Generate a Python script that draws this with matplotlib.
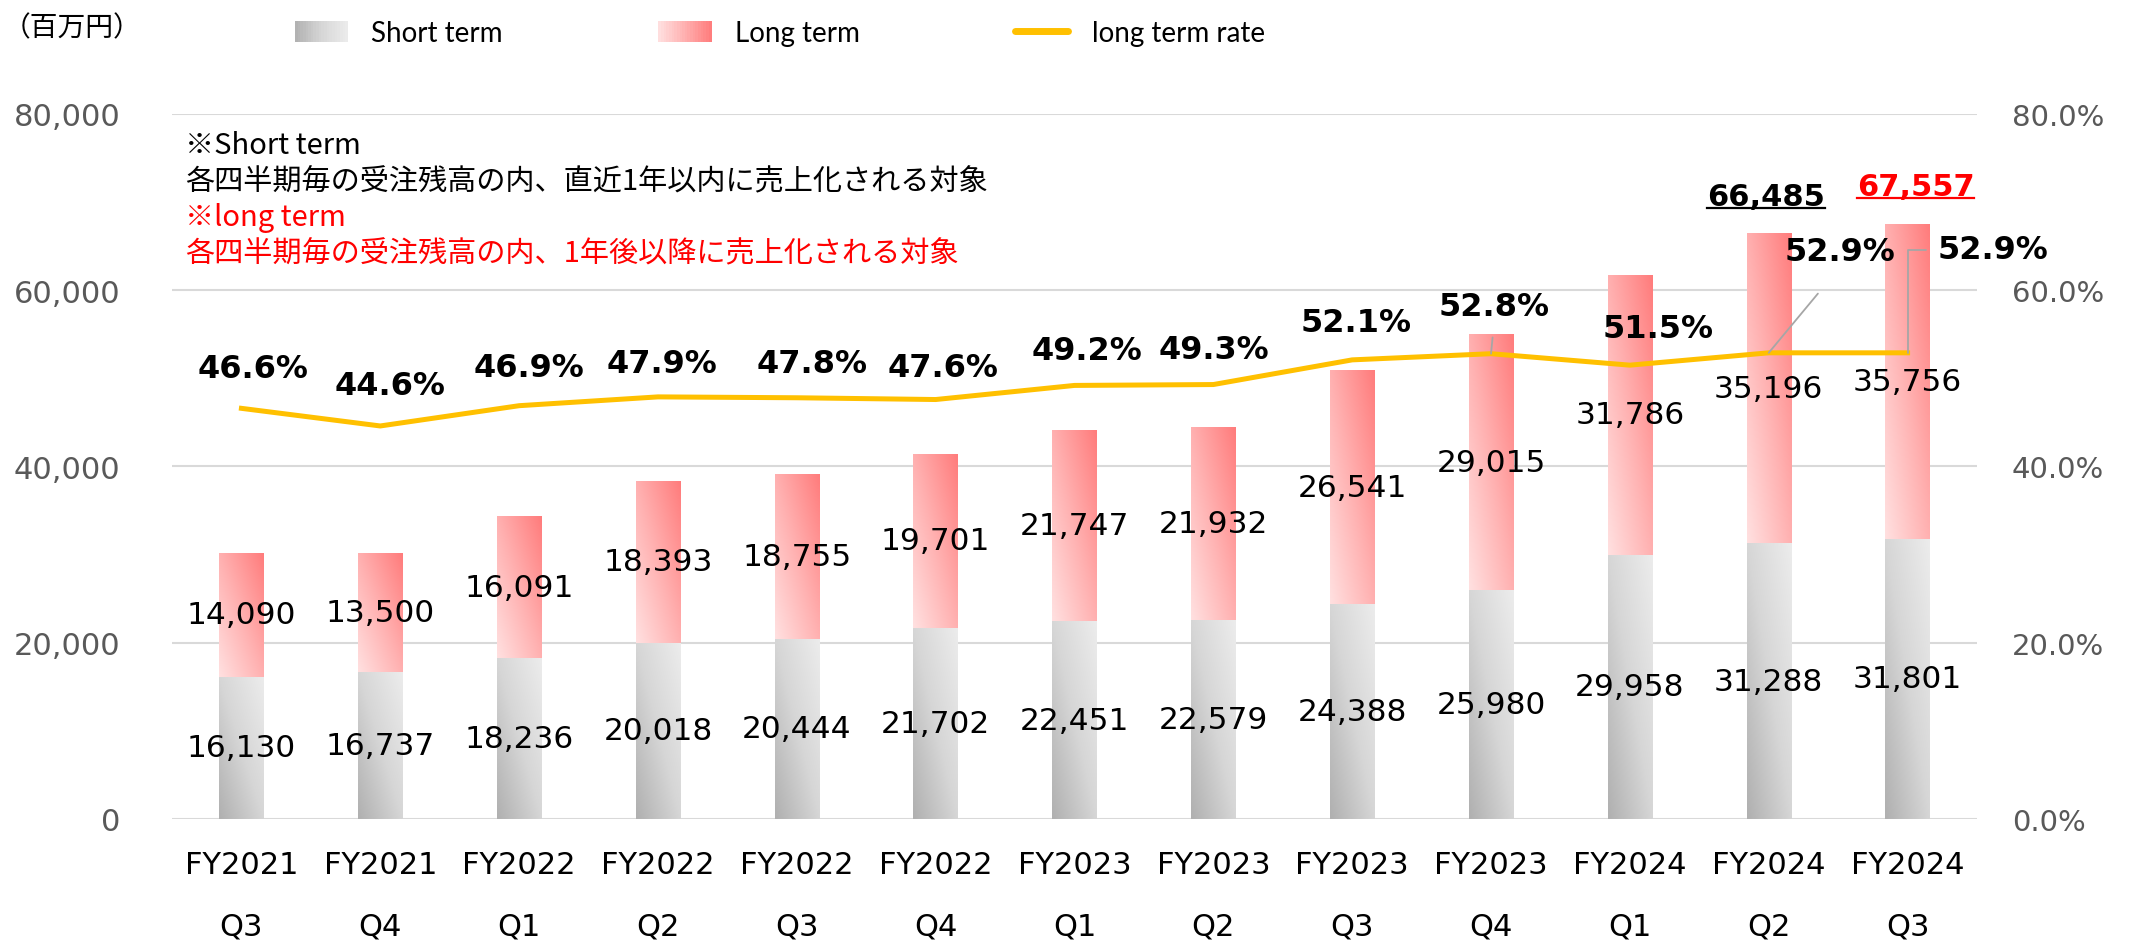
"""Order backlog by quarter: short term / long term stacked bars with long term rate."""

import matplotlib

matplotlib.use("Agg")

import matplotlib.pyplot as plt
import numpy as np
from matplotlib.colors import LinearSegmentedColormap
from matplotlib.legend_handler import HandlerBase
from matplotlib.lines import Line2D
from matplotlib.patches import Patch, Rectangle
from matplotlib.ticker import FuncFormatter

FISCAL_YEARS = ["FY2021", "FY2021", "FY2022", "FY2022", "FY2022", "FY2022", "FY2023",
                "FY2023", "FY2023", "FY2023", "FY2024", "FY2024", "FY2024"]
QUARTERS = ["Q3", "Q4", "Q1", "Q2", "Q3", "Q4", "Q1", "Q2", "Q3", "Q4", "Q1", "Q2", "Q3"]
SHORT_TERM = [16130, 16737, 18236, 20018, 20444, 21702, 22451, 22579, 24388, 25980,
              29958, 31288, 31801]
LONG_TERM = [14090, 13500, 16091, 18393, 18755, 19701, 21747, 21932, 26541, 29015,
             31786, 35196, 35756]
LONG_TERM_RATE = [46.6, 44.6, 46.9, 47.9, 47.8, 47.6, 49.2, 49.3, 52.1, 52.8, 51.5, 52.9, 52.9]
TOTAL_LABELS = [66485, 67557]  # shown above the last two bars

NOTE_LINES = [
    ("※Short term", "black"),
    ("各四半期毎の受注残高の内、直近1年以内に売上化される対象", "black"),
    ("※long term", "red"),
    ("各四半期毎の受注残高の内、1年後以降に売上化される対象", "red"),
]

# pixel offsets of the rate labels from their points
RATE_OFFSETS = [(12, 40), (10, 40), (10, 38), (4, 33), (15, 34), (7, 32), (12, 35),
                (1, 35), (4, 37), (3, 47), (28, 37), (71, 101), (85, 103)]

GRAY_CMAP = LinearSegmentedColormap.from_list("gray_grad", ["#b0b0b0", "#d6d6d6", "#ececec"])
PINK_CMAP = LinearSegmentedColormap.from_list("pink_grad", ["#ffe0e0", "#ffb0b0", "#ff7c7c"])
RATE_COLOR = "#ffc000"
GRID_COLOR = "#d9d9d9"
TICK_GRAY = "#595959"
NUM_FONT = "DejaVu Sans"
JP_FONT = ["Noto Sans CJK JP", "DejaVu Sans"]


class GradientHandler(HandlerBase):
    def __init__(self, cmap):
        super().__init__()
        self.cmap = cmap

    def create_artists(self, legend, orig_handle, xdescent, ydescent, width, height,
                       fontsize, trans):
        n = 20
        artists = []
        for k in range(n):
            artists.append(Rectangle((-xdescent + width * k / n, -ydescent), width / n + 0.3,
                                     height, facecolor=self.cmap((k + 0.5) / n),
                                     edgecolor="none", transform=trans))
        return artists


def fill_gradient(ax, bars, cmap):
    yy, xx = np.mgrid[0:1:60j, 0:1:60j]
    grad = (xx + yy) / 2
    for bar in bars:
        x0, y0 = bar.get_x(), bar.get_y()
        w, h = bar.get_width(), bar.get_height()
        im = ax.imshow(grad, cmap=cmap, vmin=0, vmax=1, origin="lower", aspect="auto",
                       extent=[x0, x0 + w, y0, y0 + h], interpolation="bilinear", zorder=2)
        im.set_clip_path(bar)
        bar.set_facecolor("none")


def main() -> None:
    fig = plt.figure(figsize=(21.44, 9.45), dpi=100)
    ax = fig.add_axes([172 / 2144, 125 / 945, 1805 / 2144, 705 / 945])
    x = np.arange(len(QUARTERS))

    short_bars = ax.bar(x, SHORT_TERM, width=0.32, zorder=2, edgecolor="none")
    long_bars = ax.bar(x, LONG_TERM, bottom=SHORT_TERM, width=0.32, zorder=2, edgecolor="none")
    fill_gradient(ax, short_bars, GRAY_CMAP)
    fill_gradient(ax, long_bars, PINK_CMAP)

    for i, (s, l) in enumerate(zip(SHORT_TERM, LONG_TERM)):
        ax.text(i, s / 2, f"{s:,}", ha="center", va="center", fontsize=22.5,
                family=NUM_FONT, zorder=5)
        ax.text(i, s + l / 2, f"{l:,}", ha="center", va="center", fontsize=22.5,
                family=NUM_FONT, zorder=5)

    ax.set_xlim(-0.5, len(QUARTERS) - 0.5)
    ax.set_ylim(0, 80000)
    ax.set_yticks(np.arange(0, 80001, 20000))
    ax.yaxis.set_major_formatter(FuncFormatter(lambda v, _: f"{v:,.0f}"))
    ax.set_xticks(x)
    ax.set_xticklabels([f"{fy}\n{q}" for fy, q in zip(FISCAL_YEARS, QUARTERS)],
                       linespacing=2.45)
    ax.tick_params(axis="x", length=0, pad=22, labelsize=22, labelcolor="black")
    ax.tick_params(axis="y", length=0, pad=37, labelsize=22, labelcolor=TICK_GRAY)
    for label in ax.get_xticklabels() + ax.get_yticklabels():
        label.set_family(NUM_FONT)
    ax.grid(axis="y", color=GRID_COLOR, linewidth=1.5, zorder=0)
    ax.set_axisbelow(True)
    for side in ["top", "right", "left", "bottom"]:
        ax.spines[side].set_visible(False)

    ax2 = ax.twinx()
    ax2.plot(x, LONG_TERM_RATE, color=RATE_COLOR, linewidth=3.6, zorder=3,
             solid_joinstyle="round")
    ax2.set_ylim(0, 80)
    ax2.set_yticks(np.arange(0, 81, 20))
    ax2.yaxis.set_major_formatter(FuncFormatter(lambda v, _: f"{v:.1f}%"))
    ax2.tick_params(axis="y", length=0, pad=25, labelsize=21, labelcolor=TICK_GRAY)
    for label in ax2.get_yticklabels():
        label.set_family(NUM_FONT)
    for side in ["top", "right", "left", "bottom"]:
        ax2.spines[side].set_visible(False)

    leader = dict(arrowstyle="-", color="#a6a6a6", lw=1.3, shrinkB=0)
    for i, (rate, (dx, dy)) in enumerate(zip(LONG_TERM_RATE, RATE_OFFSETS)):
        arrow = None
        if i == 9:
            arrow = dict(leader, relpos=(0.5, 0.0), shrinkA=9)
        elif i == len(LONG_TERM_RATE) - 2:
            arrow = dict(leader, relpos=(0.5, 0.0), shrinkA=22)
        elif i == len(LONG_TERM_RATE) - 1:
            arrow = dict(leader, relpos=(0.0, 0.5), shrinkA=6,
                         connectionstyle="angle,angleA=180,angleB=90,rad=0")
        ax2.annotate(f"{rate:.1f}%", xy=(i, rate), xytext=(dx, dy),
                     textcoords="offset pixels", ha="center", va="center",
                     fontsize=23, fontweight="bold", family=NUM_FONT,
                     arrowprops=arrow, zorder=6)

    # highlighted totals above the last two bars
    total_texts = []
    total_colors = ["black", "red"]
    total_dx = [-3, 8]
    for k, total in enumerate(TOTAL_LABELS):
        i = len(QUARTERS) - len(TOTAL_LABELS) + k
        top = SHORT_TERM[i] + LONG_TERM[i]
        t = ax.annotate(f"{total:,}", xy=(i, top), xytext=(total_dx[k], 37),
                        textcoords="offset pixels", ha="center", va="center",
                        fontsize=22, fontweight="bold", family=NUM_FONT,
                        color=total_colors[k], zorder=6)
        total_texts.append(t)

    # notes in the upper-left of the plot
    for j, (line, color) in enumerate(NOTE_LINES):
        fig.text(185 / 2144, 1 - (146 + 36 * j) / 945, line, ha="left", va="center",
                 fontsize=21, color=color, family=JP_FONT)

    fig.text(72 / 2144, 1 - 28 / 945, "（百万円）", ha="center", va="center",
             fontsize=20, color="black", family=JP_FONT)

    handles = [Patch(label="Short term"), Patch(label="Long term"),
               Line2D([], [], color=RATE_COLOR, linewidth=5, solid_capstyle="round",
                      label="long term rate")]
    fig.legend(handles=handles, labels=["Short term", "Long term", "long term rate"],
               handler_map={handles[0]: GradientHandler(GRAY_CMAP),
                            handles[1]: GradientHandler(PINK_CMAP)},
               loc="center left", bbox_to_anchor=(295 / 2144, 1 - 34 / 945), ncol=3,
               frameon=False, borderpad=0, borderaxespad=0,
               prop={"family": "Lato", "size": 20}, handlelength=1.9, handleheight=0.8,
               handletextpad=0.85, columnspacing=5.6)

    # underline the highlighted totals
    fig.canvas.draw()
    inv = fig.transFigure.inverted()
    for t, color in zip(total_texts, total_colors):
        bb = t.get_window_extent()
        (fx0, fy), (fx1, _) = inv.transform([(bb.x0, bb.y0 + 3), (bb.x1, bb.y0 + 3)])
        fig.add_artist(Line2D([fx0, fx1], [fy, fy], transform=fig.transFigure,
                              color=color, linewidth=1.6))

    fig.savefig("out.png", dpi=100)
    plt.close(fig)


if __name__ == "__main__":
    main()
